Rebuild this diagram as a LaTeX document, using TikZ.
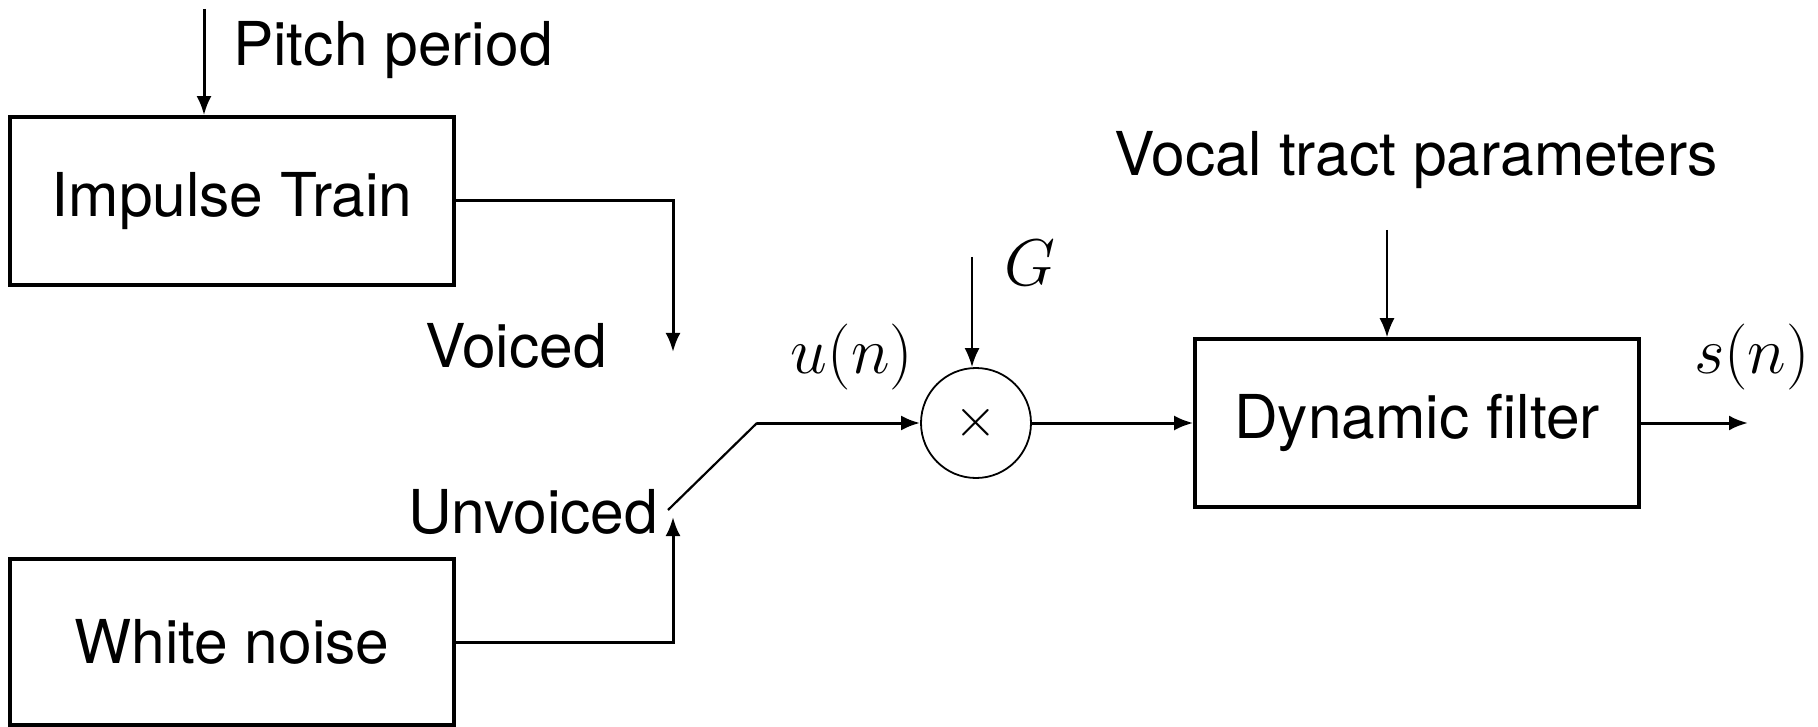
\RequirePackage{fix-cm}
\documentclass[tikz,border=0pt]{standalone}
\usepackage{fontspec}
\setmainfont{TeX Gyre Heros}
\usetikzlibrary{arrows.meta}
\begin{document}
\begin{tikzpicture}[x=1pt,y=-1pt,
  txt/.style={font=\fontsize{60.5}{72}\selectfont},
  mth/.style={font=\fontsize{66}{76}\selectfont},
  blk/.style={draw,line width=3.6pt,inner sep=0pt,minimum width=444pt,minimum height=168pt,txt},
  lbl/.style={inner sep=0pt,txt},
  mlbl/.style={inner sep=0pt,mth},
  conn/.style={line width=3pt,-{Latex[length=19pt,width=15pt]}},
  thinconn/.style={line width=2pt,-{Latex[length=19pt,width=15pt]}},
  sw/.style={line width=2.2pt},
  mulnode/.style={draw,circle,line width=1.8pt,minimum size=110pt,inner sep=0pt}]
\useasboundingbox (0,0) rectangle (1818,727);

\node[blk] (imp) at (232,201) {Impulse Train};
\node[blk,minimum height=166pt] (wn) at (232,642) {White noise};
\node[blk] (filt) at (1417,423) {Dynamic filter};
\node[mulnode] (mul) at (976,423) {\fontsize{55}{60}\selectfont$\times$};

\node[lbl,anchor=base west] (pp) at (233,66) {Pitch period};
\node[lbl,anchor=base west] (vo) at (425,367) {Voiced};
\node[lbl,anchor=base west] (uv) at (408,533) {Unvoiced};
\node[lbl,anchor=base] (vtp) at (1416,176) {Vocal tract parameters};
\node[mlbl,anchor=base] (gl) at (1030,286) {$G$};
\node[mlbl,anchor=base] (un) at (852,373) {$u(n)$};
\node[mlbl,anchor=base] (sn) at (1752,373) {$s(n)$};

\coordinate (ptop) at (204,9);
\coordinate (vtip) at (673,352);
\coordinate (utip) at (673,517);
\coordinate (sw0) at (668,510);
\coordinate (sw1) at (757,423);
\coordinate (gtop) at (972,257);
\coordinate (vtop) at (1387,230);
\coordinate (out) at (1748,423);

\draw[conn] (ptop) -- (ptop |- imp.north);
\draw[conn] (imp.east) -| (vtip);
\draw[conn] (wn.east) -| (utip);
\draw[sw] (sw0) -- (sw1);
\draw[conn] (sw1) -- (mul.west);
\draw[thinconn] (gtop) -- (gtop |- mul.north);
\draw[conn] (mul.east) -- (filt.west);
\draw[thinconn] (vtop) -- (vtop |- filt.north);
\draw[conn] (filt.east) -- (out);
\end{tikzpicture}
\end{document}
